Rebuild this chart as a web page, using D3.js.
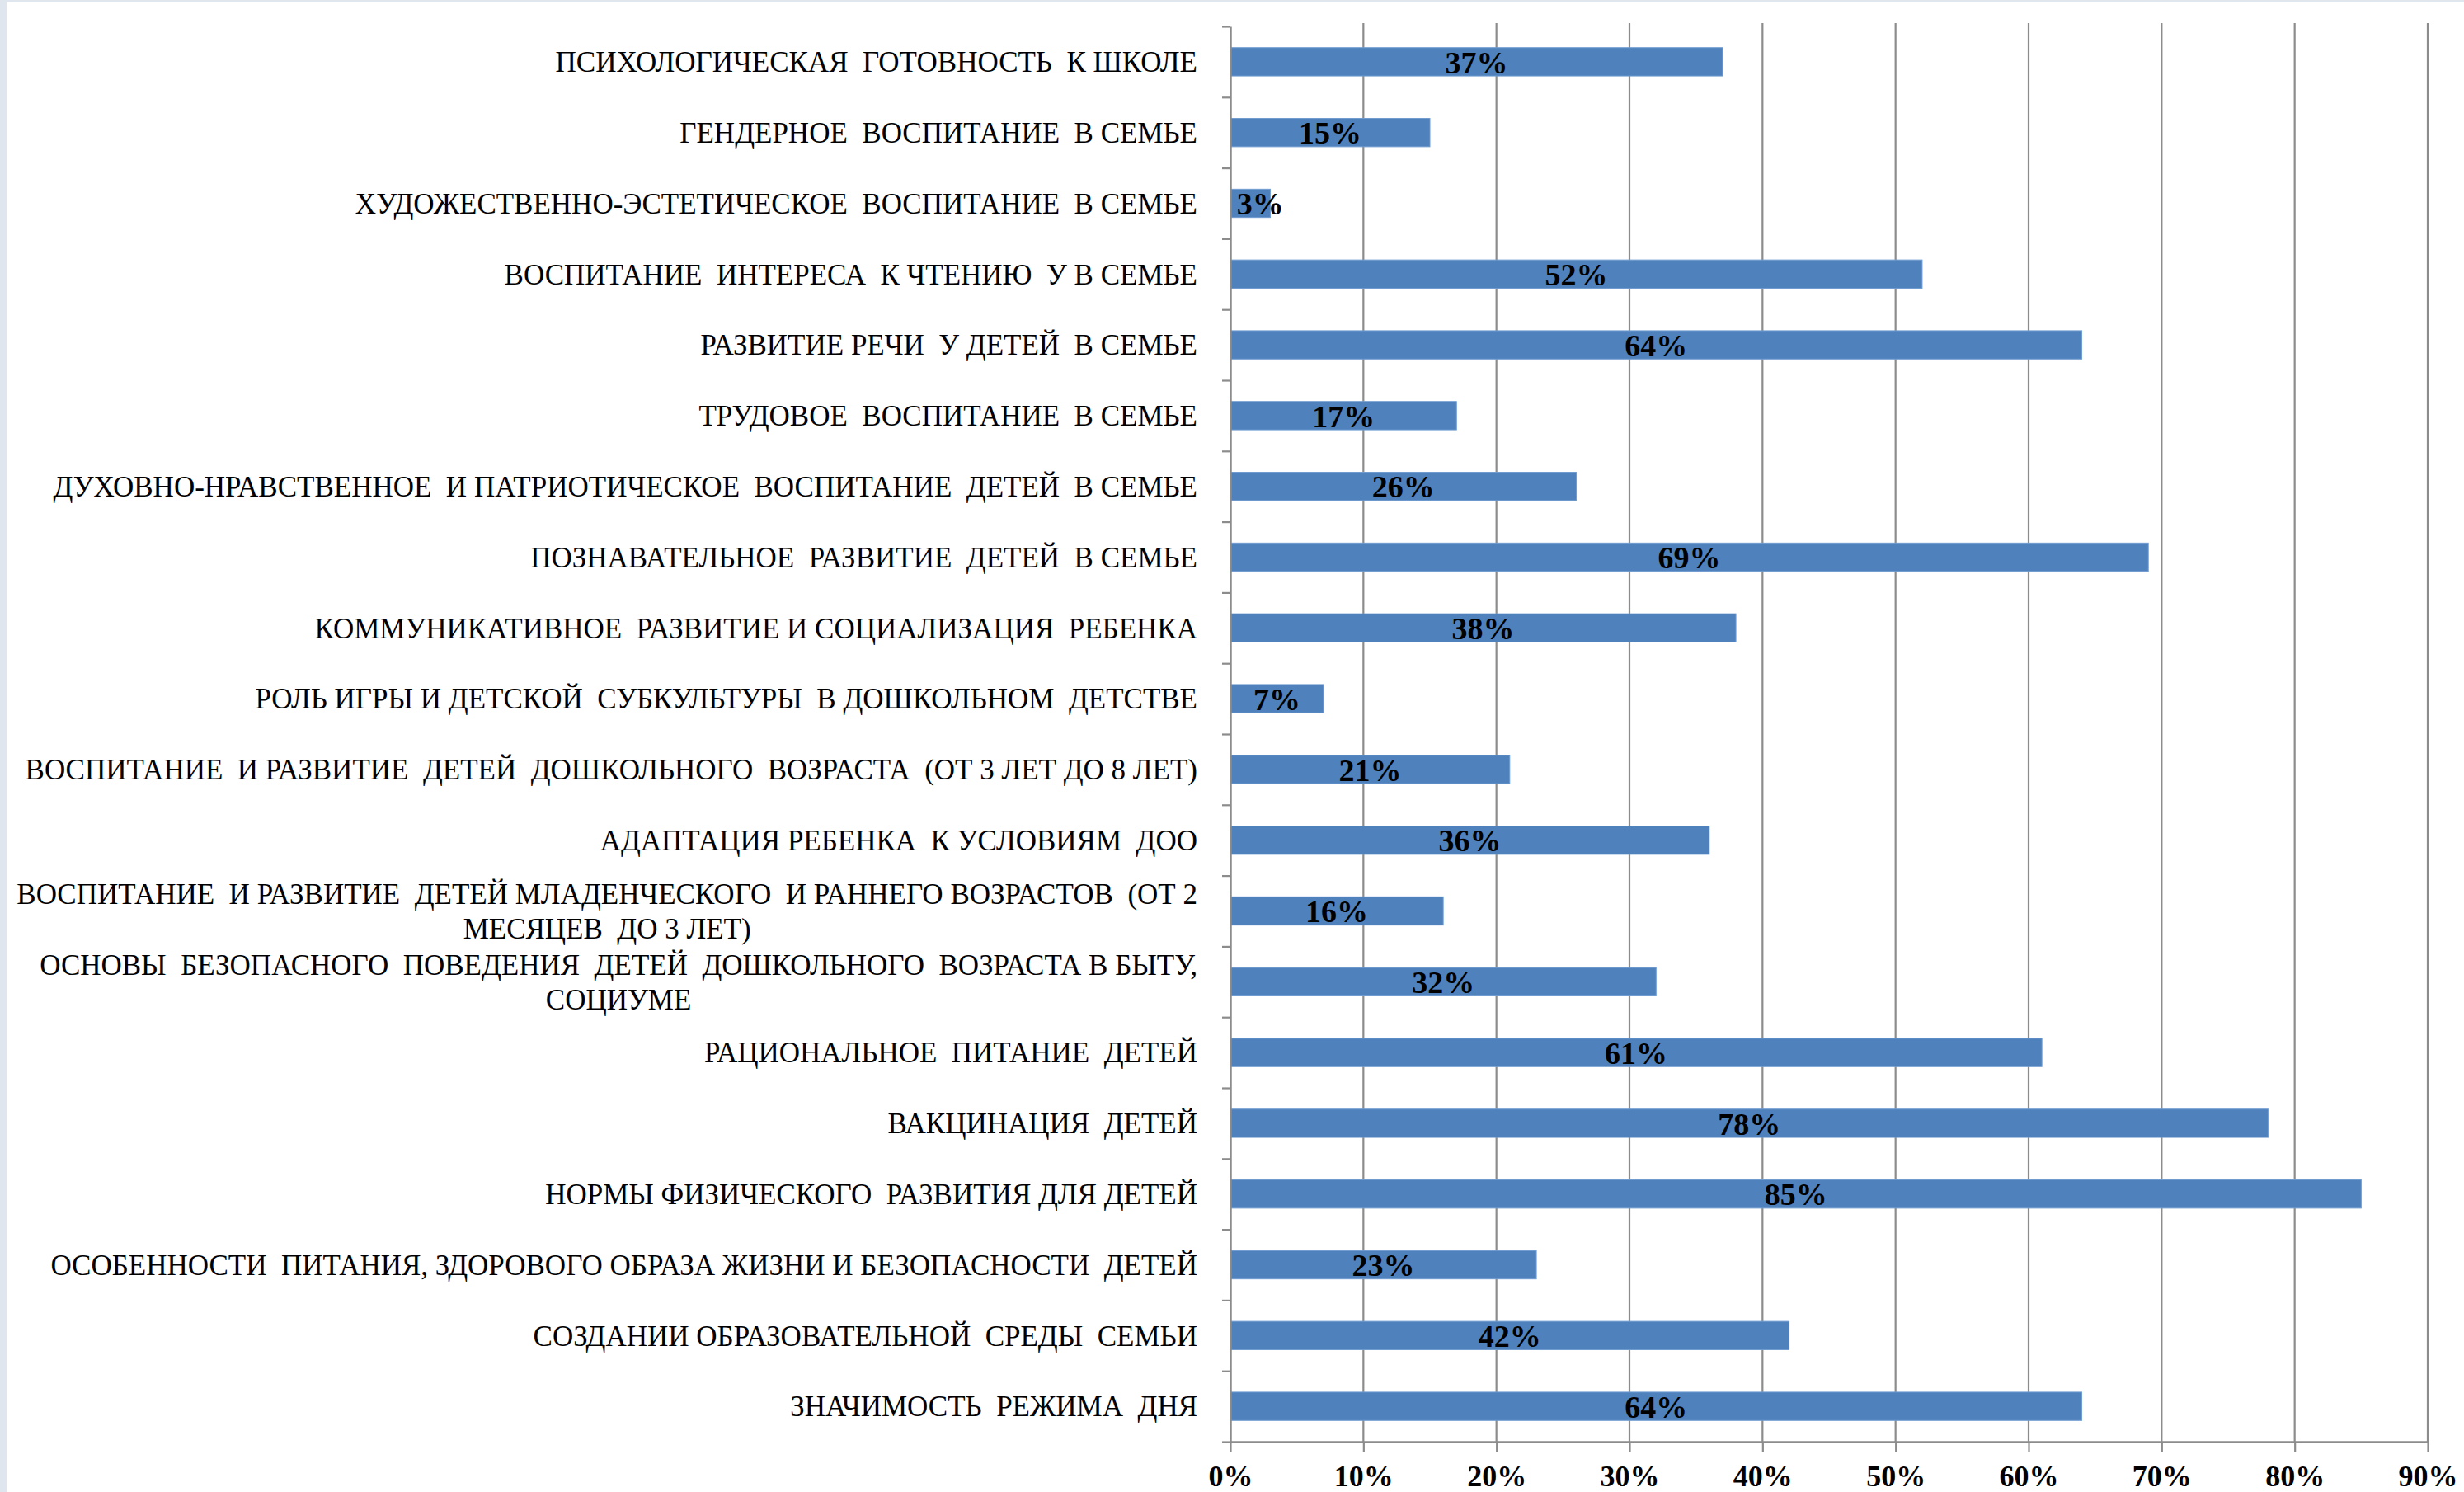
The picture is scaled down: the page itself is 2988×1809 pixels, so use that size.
<!DOCTYPE html>
<html><head><meta charset="utf-8">
<script src="https://cdn.jsdelivr.net/npm/d3@7"></script>
<style>
html,body{margin:0;padding:0;background:#fff;}
svg{display:block;}
text{white-space:pre;}
</style></head>
<body>
<svg id="chart" width="2988" height="1809"></svg>
<script>
const categories = [
  ["ПСИХОЛОГИЧЕСКАЯ  ГОТОВНОСТЬ  К ШКОЛЕ"],
  ["ГЕНДЕРНОЕ  ВОСПИТАНИЕ  В СЕМЬЕ"],
  ["ХУДОЖЕСТВЕННО-ЭСТЕТИЧЕСКОЕ  ВОСПИТАНИЕ  В СЕМЬЕ"],
  ["ВОСПИТАНИЕ  ИНТЕРЕСА  К ЧТЕНИЮ  У В СЕМЬЕ"],
  ["РАЗВИТИЕ РЕЧИ  У ДЕТЕЙ  В СЕМЬЕ"],
  ["ТРУДОВОЕ  ВОСПИТАНИЕ  В СЕМЬЕ"],
  ["ДУХОВНО-НРАВСТВЕННОЕ  И ПАТРИОТИЧЕСКОЕ  ВОСПИТАНИЕ  ДЕТЕЙ  В СЕМЬЕ"],
  ["ПОЗНАВАТЕЛЬНОЕ  РАЗВИТИЕ  ДЕТЕЙ  В СЕМЬЕ"],
  ["КОММУНИКАТИВНОЕ  РАЗВИТИЕ И СОЦИАЛИЗАЦИЯ  РЕБЕНКА"],
  ["РОЛЬ ИГРЫ И ДЕТСКОЙ  СУБКУЛЬТУРЫ  В ДОШКОЛЬНОМ  ДЕТСТВЕ"],
  ["ВОСПИТАНИЕ  И РАЗВИТИЕ  ДЕТЕЙ  ДОШКОЛЬНОГО  ВОЗРАСТА  (ОТ 3 ЛЕТ ДО 8 ЛЕТ)"],
  ["АДАПТАЦИЯ РЕБЕНКА  К УСЛОВИЯМ  ДОО"],
  ["ВОСПИТАНИЕ  И РАЗВИТИЕ  ДЕТЕЙ МЛАДЕНЧЕСКОГО  И РАННЕГО ВОЗРАСТОВ  (ОТ 2", "МЕСЯЦЕВ  ДО 3 ЛЕТ)"],
  ["ОСНОВЫ  БЕЗОПАСНОГО  ПОВЕДЕНИЯ  ДЕТЕЙ  ДОШКОЛЬНОГО  ВОЗРАСТА В БЫТУ,", "СОЦИУМЕ"],
  ["РАЦИОНАЛЬНОЕ  ПИТАНИЕ  ДЕТЕЙ"],
  ["ВАКЦИНАЦИЯ  ДЕТЕЙ"],
  ["НОРМЫ ФИЗИЧЕСКОГО  РАЗВИТИЯ ДЛЯ ДЕТЕЙ"],
  ["ОСОБЕННОСТИ  ПИТАНИЯ, ЗДОРОВОГО ОБРАЗА ЖИЗНИ И БЕЗОПАСНОСТИ  ДЕТЕЙ"],
  ["СОЗДАНИИ ОБРАЗОВАТЕЛЬНОЙ  СРЕДЫ  СЕМЬИ"],
  ["ЗНАЧИМОСТЬ  РЕЖИМА  ДНЯ"]
];
const values = [0.37,0.15,0.03,0.52,0.64,0.17,0.26,0.69,0.38,0.07,0.21,0.36,0.16,0.32,0.61,0.78,0.85,0.23,0.42,0.64];
const xTicks = [0,0.1,0.2,0.3,0.4,0.5,0.6,0.7,0.8,0.9];

const svg = d3.select("#chart");
const W = 2988, H = 1809;
const plot = {left:1492, right:2944, top:32, bottom:1748};
const font = "'Liberation Serif','Times New Roman',serif";

svg.append("rect").attr("width",W).attr("height",H).attr("fill","#fff");
// slide frame strips
svg.append("rect").attr("x",0).attr("y",0).attr("width",W).attr("height",3).attr("fill","#dfe6ee");
svg.append("rect").attr("x",0).attr("y",0).attr("width",8).attr("height",H).attr("fill","#dfe6ee");

const idx = d3.range(values.length);
const x = d3.scaleLinear().domain([0,0.9]).range([plot.left, plot.right]);
const y = d3.scaleBand().domain(idx).range([plot.top, plot.bottom]).paddingInner(0.6).paddingOuter(0.3);

// gridlines
svg.append("g").selectAll("line").data(xTicks.slice(1)).join("line")
  .attr("x1",d=>x(d)).attr("x2",d=>x(d)).attr("y1",plot.top-4).attr("y2",plot.bottom)
  .attr("stroke","#8c8c8c").attr("stroke-width",2.2);

// bars
svg.append("g").selectAll("rect").data(idx).join("rect")
  .attr("x",x(0)).attr("y",i=>y(i)).attr("width",i=>x(values[i])-x(0)).attr("height",y.bandwidth())
  .attr("fill","#4f81bd").attr("stroke","#6f9bd0").attr("stroke-width",1);

// x axis
const xAxis = d3.axisBottom(x).tickValues(xTicks).tickFormat(d3.format(".0%")).tickSize(12).tickSizeOuter(0);
const gx = svg.append("g").attr("transform",`translate(0,${plot.bottom})`).call(xAxis);
gx.select(".domain").attr("stroke","#8c8c8c").attr("stroke-width",2.5);
gx.selectAll(".tick line").attr("stroke","#8c8c8c").attr("stroke-width",2.2);
gx.selectAll(".tick text").attr("font-family",font).attr("font-size",36).attr("font-weight","bold")
  .attr("fill","#000").attr("dy",0).attr("y",54);

// y axis line with ticks at band boundaries
const yAxisScale = d3.scaleLinear().domain([0,values.length]).range([plot.top, plot.bottom]);
const yAxis = d3.axisLeft(yAxisScale).tickValues(d3.range(values.length+1)).tickSize(10).tickFormat("").tickSizeOuter(0);
const gy = svg.append("g").attr("transform",`translate(${plot.left},0)`).call(yAxis);
gy.select(".domain").attr("stroke","#8c8c8c").attr("stroke-width",2.5);
gy.selectAll(".tick line").attr("stroke","#8c8c8c").attr("stroke-width",2.2);

// category labels: lines centered to each other, block right-aligned at labelX
const labelX = 1452, lineH = 42;
const lg = svg.append("g");
idx.forEach(i=>{
  const lines = categories[i];
  const cy = y(i)+y.bandwidth()/2;
  const t = lg.append("text").attr("font-family",font).attr("font-size",35).attr("fill","#000")
    .attr("text-anchor","middle");
  lines.forEach((ln,k)=>{
    t.append("tspan").attr("x",0).attr("y", cy + (k-(lines.length-1)/2)*lineH).attr("dy","0.35em").text(ln);
  });
  const w = d3.max(t.selectAll("tspan").nodes(), n=>n.getComputedTextLength());
  t.selectAll("tspan").attr("x", labelX - w/2);
});

// data labels
svg.append("g").selectAll("text").data(idx).join("text")
  .attr("x",i=>(x(0)+x(values[i]))/2 + (values[i]<0.05?12:0)).attr("y",i=>y(i)+y.bandwidth()/2).attr("dy","0.36em")
  .attr("text-anchor","middle").attr("font-family",font).attr("font-size",38).attr("font-weight","bold")
  .attr("fill","#000").text(i=>d3.format(".0%")(values[i]));
</script>
</body></html>
